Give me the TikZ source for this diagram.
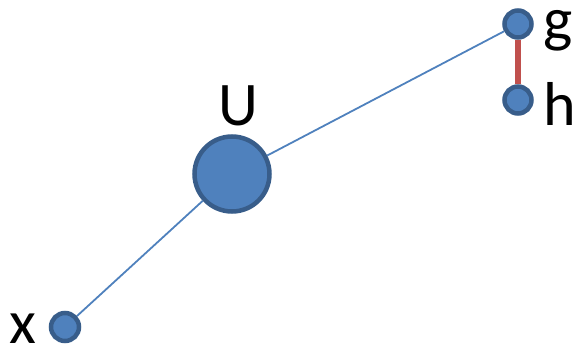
\documentclass[tikz,border=0pt]{standalone}
\usepackage{fontspec}
\setmainfont{Carlito}
\definecolor{nodefill}{HTML}{4F81BD}
\definecolor{nodeedge}{HTML}{385D8A}
\definecolor{edgered}{HTML}{C0504D}
\begin{document}
\begin{tikzpicture}[x=1pt,y=-1pt,
  dot/.style={circle,fill=nodefill,draw=nodeedge,line width=4.5pt,inner sep=0pt},
  lbl/.style={font=\fontsize{62}{62}\selectfont,inner sep=0pt,anchor=base},
  link/.style={draw=nodefill,line width=1.8pt}]
\useasboundingbox (0,0) rectangle (578,350);
\node[dot,minimum size=75pt] (U) at (232,174) {};
\node[dot,minimum size=28pt] (x) at (65,327) {};
\node[dot,minimum size=27pt] (g) at (518,24) {};
\node[dot,minimum size=27pt] (h) at (518,100) {};
\draw[link] (U) -- (x);
\draw[link] (U) -- (g);
\draw[draw=edgered,line width=5.5pt] (g) -- (h);
\node[lbl] (Ul) at (238,126) {U};
\node[lbl] (xl) at (23,343) {x};
\node[lbl,anchor=base west] (gl) at (543,41) {g};
\node[lbl,anchor=base west] (hl) at (543,125) {h};
\end{tikzpicture}
\end{document}
